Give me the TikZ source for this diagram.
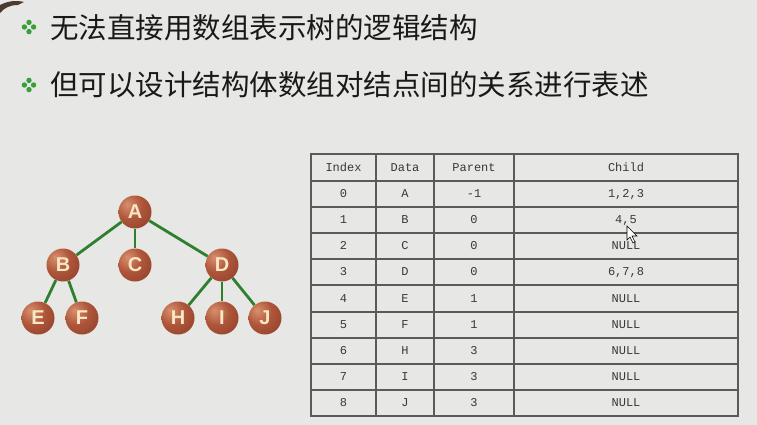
\documentclass[tikz,border=0pt]{standalone}
\usepackage{fontspec}
\setmainfont{Liberation Sans}
\newfontfamily\cjk{Noto Sans CJK SC}
\newfontfamily\tabfont{Liberation Mono}
\definecolor{bgc}{HTML}{E7E7E5}
\definecolor{ballhi}{HTML}{D8906E}
\definecolor{ballmid}{HTML}{AE563A}
\definecolor{balldark}{HTML}{7A301F}
\definecolor{edgegreen}{HTML}{2E7F2E}
\definecolor{dotgreen}{HTML}{3A9E3A}
\definecolor{lettercol}{HTML}{F8E6C4}
\definecolor{gridcol}{HTML}{5A5A5A}
\definecolor{tabtext}{HTML}{383838}
\definecolor{brushcol}{HTML}{4A3A30}
\pgfdeclareradialshading{brownball}{\pgfpoint{-12bp}{12bp}}{color(0bp)=(ballhi); color(20bp)=(ballmid); color(58bp)=(balldark); color(100bp)=(balldark)}
\tikzset{
  treenode/.style={circle, shade, shading=brownball, minimum size=33pt, inner sep=0pt,
    text=lettercol, font=\fontsize{20}{20}\selectfont\bfseries},
  treeedge/.style={draw=edgegreen, line width=2.8pt},
  bullettext/.style={anchor=west, inner sep=0pt, text=black!90, font=\cjk\fontsize{28.5}{30}\selectfont},
  celltext/.style={inner sep=0pt, text height=8pt, text depth=1pt, text=tabtext, font=\tabfont\fontsize{12}{12}\selectfont},
  gridline/.style={draw=gridcol, line width=1.1pt},
  bulletdot/.style={fill=dotgreen, draw=none}
}
\begin{document}
\begin{tikzpicture}[x=1pt, y=-1pt]
\useasboundingbox (0,0) rectangle (757,425);
\fill[bgc] (0,0) rectangle (757,425);
% top-left brush stroke
\fill[brushcol] (0,5) .. controls (8,1) and (16,0) .. (24,2) -- (18,5) .. controls (10,5) and (4,8) .. (0,13) -- cycle;

% bullets
\foreach \by/\nm in {27/one, 85/two}{
  \foreach \dx/\dy in {-4.6/0, 4.6/0, 0/-4.6, 0/4.6}{
    \fill[bulletdot] (29+\dx,\by+\dy) circle (2.7);
  }
}
\node[bullettext] (line1) at (50,28) {无法直接用数组表示树的逻辑结构};
\node[bullettext] (line2) at (50,85) {但可以设计结构体数组对结点间的关系进行表述};

% tree
\node[treenode] (A) at (135,212) {A};
\node[treenode] (B) at (63,265) {B};
\node[treenode] (C) at (135,265) {C};
\node[treenode] (D) at (222,265) {D};
\node[treenode] (E) at (38,318) {E};
\node[treenode] (F) at (82,318) {F};
\node[treenode] (H) at (178,318) {H};
\node[treenode] (I) at (222,318) {I};
\node[treenode] (J) at (265,318) {J};
\foreach \u/\v in {A/B, A/C, A/D, B/E, B/F, D/H, D/I, D/J}{
  \draw[treeedge] (\u) -- (\v);
}

% table grid
\draw[gridline] (311,154) rectangle (738,416);
\foreach \yy in {181,207,233,259,285,312,338,364,390}{
  \draw[gridline] (311,\yy) -- (738,\yy);
}
\foreach \xx in {376,434,514}{
  \draw[gridline] (\xx,154) -- (\xx,416);
}
% header
\node[celltext] (h1) at (343.5,168) {Index};
\node[celltext] (h2) at (405,168) {Data};
\node[celltext] (h3) at (474,168) {Parent};
\node[celltext] (h4) at (626,168) {Child};
\foreach \r/\yc/\a/\b/\c/\d in {
  0/194/0/A/-1/{1,2,3},
  1/220/1/B/0/{4,5},
  2/246/2/C/0/NULL,
  3/272/3/D/0/{6,7,8},
  4/298.5/4/E/1/NULL,
  5/325/5/F/1/NULL,
  6/351/6/H/3/NULL,
  7/377/7/I/3/NULL,
  8/403/8/J/3/NULL}{
  \node[celltext] (r\r c1) at (343.5,\yc) {\a};
  \node[celltext] (r\r c2) at (405,\yc) {\b};
  \node[celltext] (r\r c3) at (474,\yc) {\c};
  \node[celltext] (r\r c4) at (626,\yc) {\d};
}
% mouse pointer
\filldraw[fill=white, draw=black, line width=0.6pt]
  (627,226) -- (627,240) -- (630,237) -- (633,243) -- (635,242) -- (632,236) -- (637,236) -- cycle;
\end{tikzpicture}
\end{document}
